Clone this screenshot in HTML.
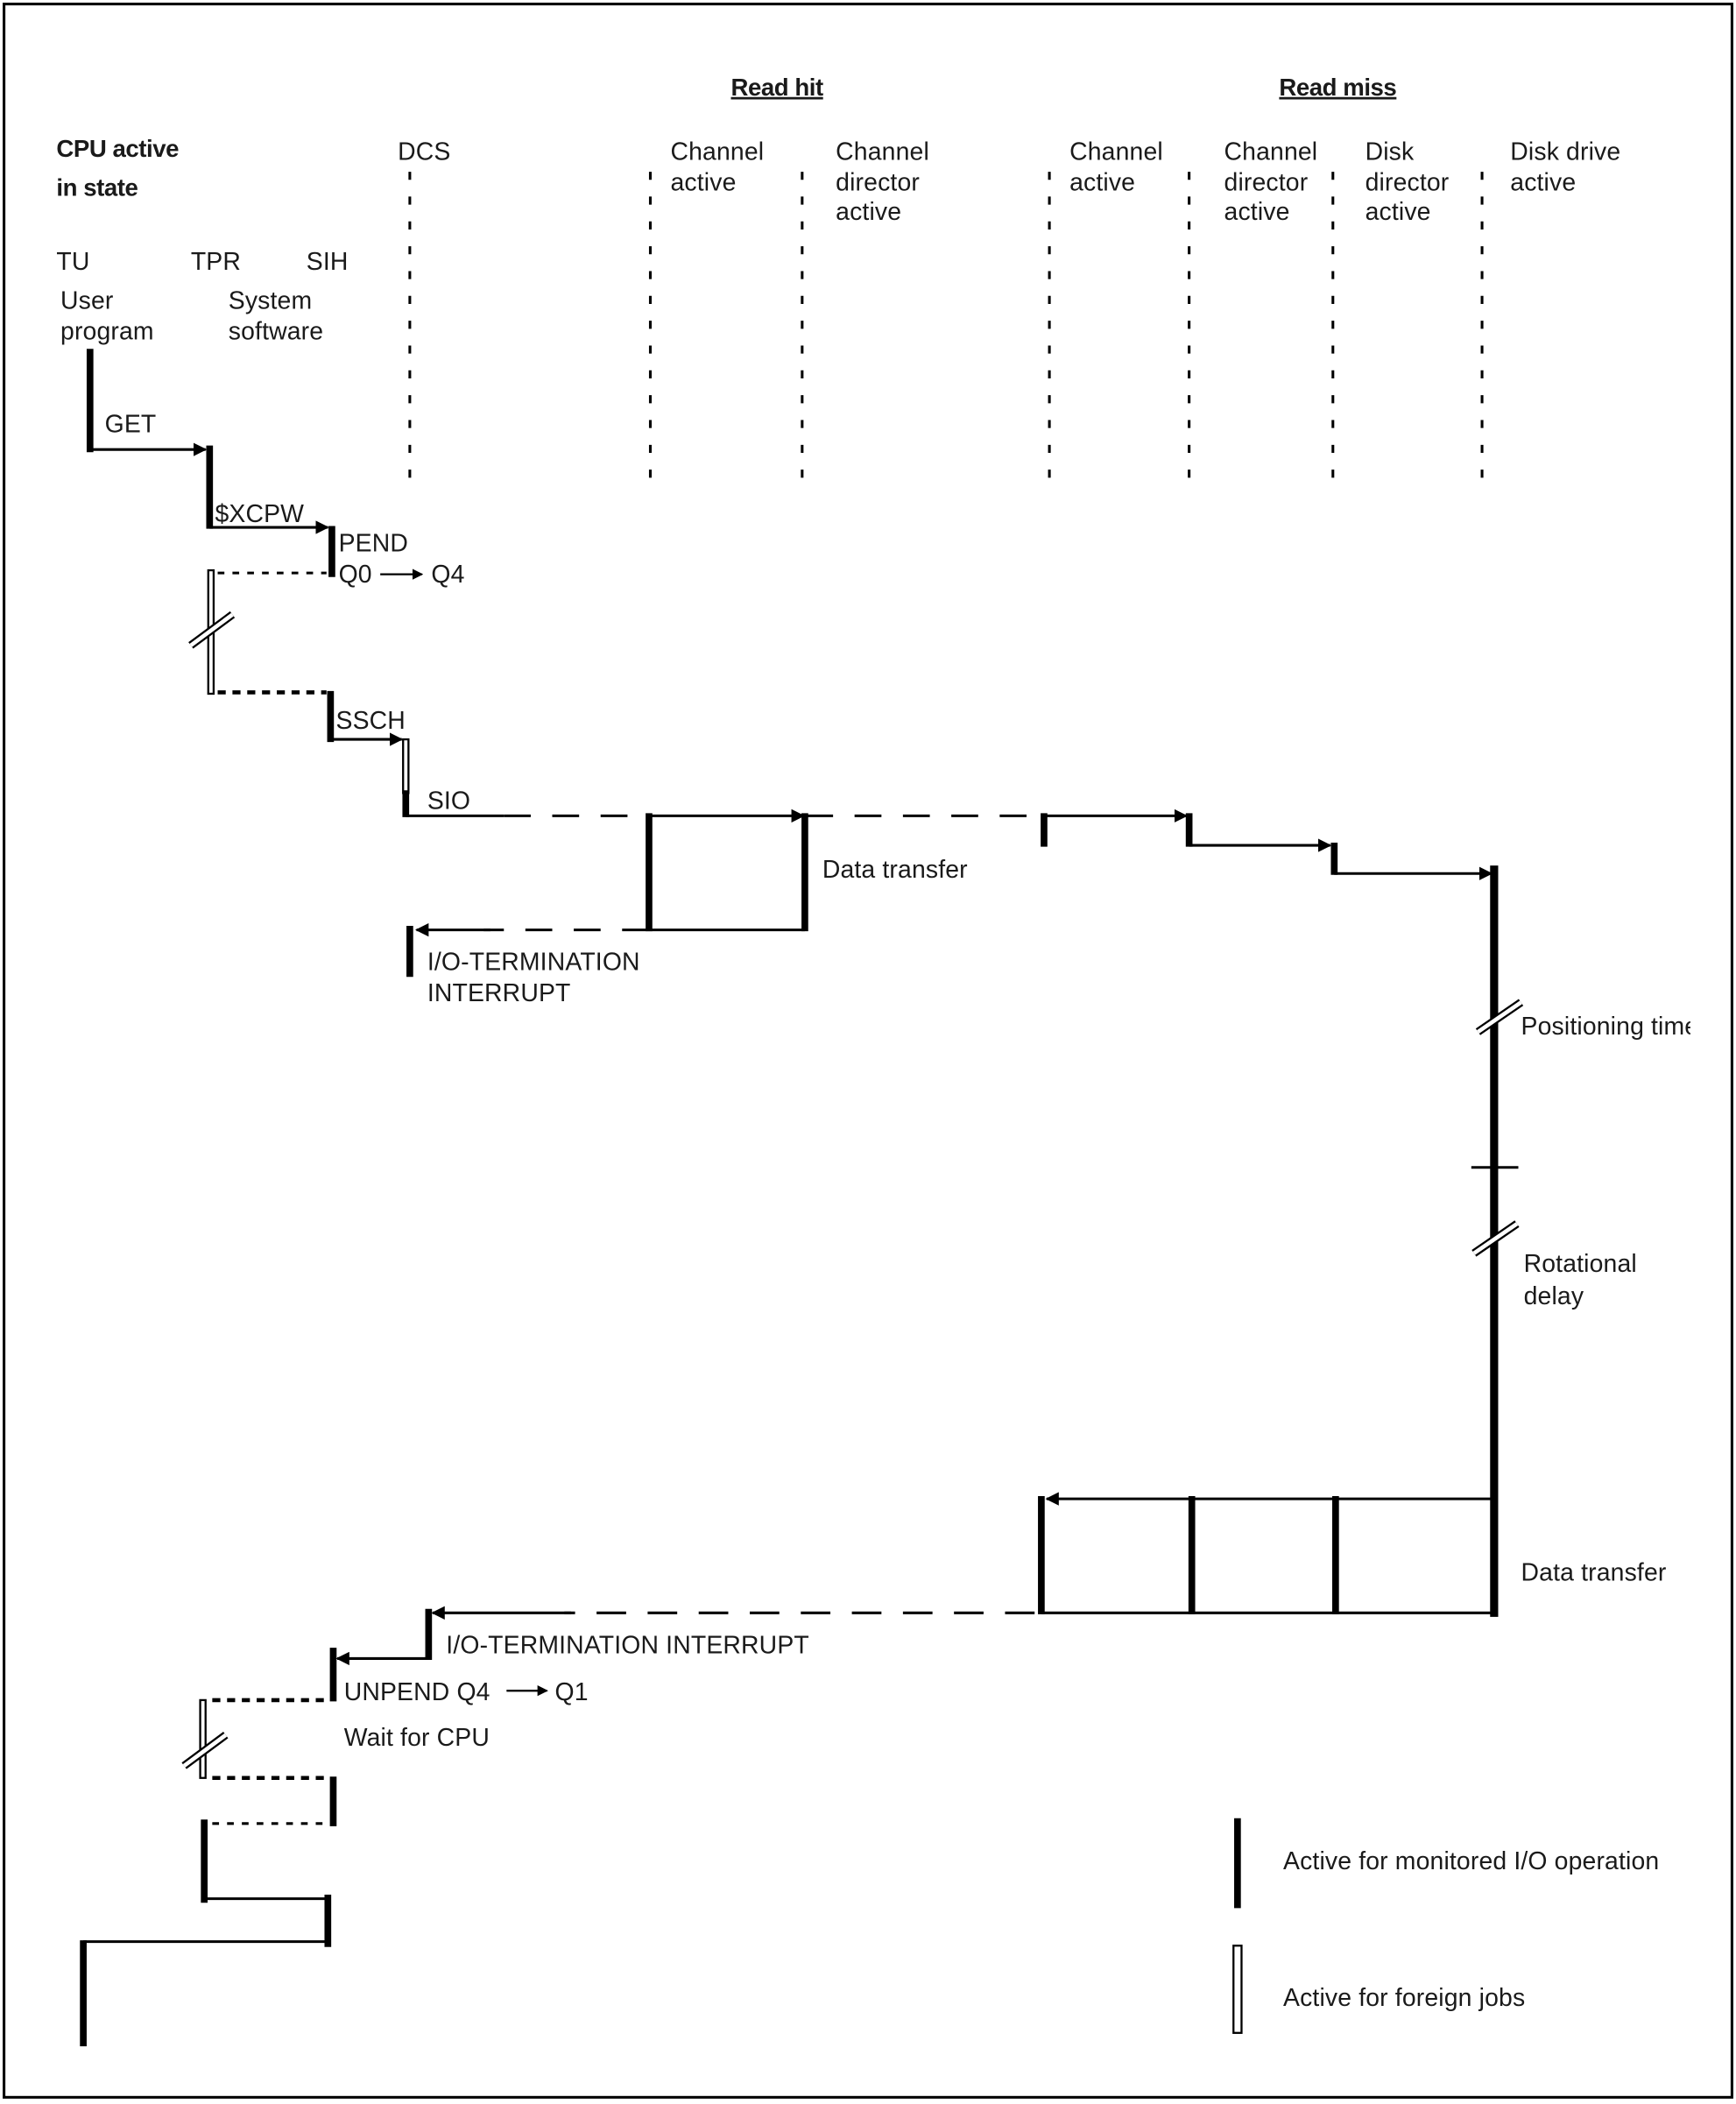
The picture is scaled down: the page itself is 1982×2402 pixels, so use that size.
<!DOCTYPE html>
<html><head><meta charset="utf-8">
<style>
html,body{margin:0;padding:0;background:#fff;}
svg{display:block;}
text{font-family:"Liberation Sans",Arial,sans-serif;font-size:18.5px;fill:#1a1a1a;letter-spacing:0.1px;}
.b{font-weight:bold;font-size:18px;letter-spacing:-0.3px;}
</style></head>
<body>
<svg width="1982" height="2402" viewBox="0 0 1292 1568" preserveAspectRatio="none" xmlns="http://www.w3.org/2000/svg">
<defs>
<marker id="ar" markerWidth="10" markerHeight="10" refX="9" refY="5" orient="auto" markerUnits="userSpaceOnUse">
<path d="M0,0 L10,5 L0,10 Z" fill="#000"/>
</marker>
<marker id="as" markerWidth="8" markerHeight="8" refX="7" refY="4" orient="auto" markerUnits="userSpaceOnUse">
<path d="M0,0 L8,4 L0,8 Z" fill="#000"/>
</marker>
</defs>
<rect x="3" y="3" width="1286" height="1560" fill="#fff" stroke="#000" stroke-width="2"/>

<!-- headers -->
<text class="b" x="544" y="71" text-decoration="underline">Read hit</text>
<text class="b" x="952" y="71" text-decoration="underline">Read miss</text>
<text class="b" x="42" y="117">CPU active</text>
<text class="b" x="42" y="146">in state</text>
<text x="296" y="119">DCS</text>
<text x="499" y="119">Channel</text><text x="499" y="142">active</text>
<text x="622" y="119">Channel</text><text x="622" y="142">director</text><text x="622" y="164">active</text>
<text x="796" y="119">Channel</text><text x="796" y="142">active</text>
<text x="911" y="119">Channel</text><text x="911" y="142">director</text><text x="911" y="164">active</text>
<text x="1016" y="119">Disk</text><text x="1016" y="142">director</text><text x="1016" y="164">active</text>
<text x="1124" y="119">Disk drive</text><text x="1124" y="142">active</text>
<text x="42" y="201">TU</text><text x="142" y="201">TPR</text><text x="228" y="201">SIH</text>
<text x="45" y="230">User</text><text x="45" y="253">program</text>
<text x="170" y="230">System</text><text x="170" y="253">software</text>

<!-- dashed verticals -->
<g stroke="#000" stroke-width="2" stroke-dasharray="6 12.5">
<line x1="305" y1="128" x2="305" y2="360"/>
<line x1="484" y1="128" x2="484" y2="360"/>
<line x1="597" y1="128" x2="597" y2="360"/>
<line x1="781" y1="128" x2="781" y2="360"/>
<line x1="885" y1="128" x2="885" y2="360"/>
<line x1="992" y1="128" x2="992" y2="360"/>
<line x1="1103" y1="128" x2="1103" y2="360"/>
</g>

<!-- CPU part -->
<g stroke="#000" fill="none">
<line x1="67" y1="260" x2="67" y2="337" stroke-width="5"/>
<line x1="67" y1="335" x2="153" y2="335" stroke-width="2" marker-end="url(#ar)"/>
<line x1="156" y1="332" x2="156" y2="394" stroke-width="5"/>
<line x1="156" y1="393" x2="244" y2="393" stroke-width="2" marker-end="url(#ar)"/>
<line x1="247" y1="392" x2="247" y2="430" stroke-width="5"/>
<line x1="283" y1="428" x2="314" y2="428" stroke-width="1.5" marker-end="url(#as)"/>
<line x1="162" y1="427" x2="243" y2="427" stroke-width="2" stroke-dasharray="5 6"/>
<rect x="155" y="425" width="4" height="92" stroke-width="1.5" fill="#fff"/>
<line x1="162" y1="516" x2="243" y2="516" stroke-width="3" stroke-dasharray="6 5"/>
<line x1="246" y1="515" x2="246" y2="553" stroke-width="5"/>
<line x1="246" y1="551" x2="299" y2="551" stroke-width="2" marker-end="url(#ar)"/>
<rect x="300" y="551" width="4" height="40" stroke-width="1.5" fill="#fff"/>
<line x1="302" y1="589" x2="302" y2="609" stroke-width="5"/>
<line x1="302" y1="608" x2="375" y2="608" stroke-width="2"/>
<line x1="375" y1="608" x2="483" y2="608" stroke-width="2" stroke-dasharray="20 16"/>
<line x1="483" y1="606" x2="483" y2="694" stroke-width="5"/>
<line x1="483" y1="608" x2="598" y2="608" stroke-width="2" marker-end="url(#ar)"/>
<line x1="599" y1="606" x2="599" y2="694" stroke-width="5"/>
<line x1="483" y1="693" x2="599" y2="693" stroke-width="2"/>
<line x1="600" y1="608" x2="775" y2="608" stroke-width="2" stroke-dasharray="20 16"/>
<line x1="483" y1="693" x2="360" y2="693" stroke-width="2" stroke-dasharray="20 16"/>
<line x1="365" y1="693" x2="310" y2="693" stroke-width="2" marker-end="url(#ar)"/>
<line x1="305" y1="690" x2="305" y2="728" stroke-width="5"/>

<!-- read miss -->
<line x1="777" y1="606" x2="777" y2="631" stroke-width="5"/>
<line x1="777" y1="608" x2="883" y2="608" stroke-width="2" marker-end="url(#ar)"/>
<line x1="885" y1="606" x2="885" y2="631" stroke-width="5"/>
<line x1="885" y1="630" x2="990" y2="630" stroke-width="2" marker-end="url(#ar)"/>
<line x1="993" y1="628" x2="993" y2="652" stroke-width="5"/>
<line x1="993" y1="651" x2="1110" y2="651" stroke-width="2" marker-end="url(#ar)"/>
<line x1="1112" y1="645" x2="1112" y2="1205" stroke-width="6"/>
<line x1="1095" y1="870" x2="1130" y2="870" stroke-width="2"/>
<line x1="1112" y1="1117" x2="779" y2="1117" stroke-width="2" marker-end="url(#ar)"/>
<line x1="775" y1="1115" x2="775" y2="1203" stroke-width="5"/>
<line x1="887" y1="1115" x2="887" y2="1203" stroke-width="5"/>
<line x1="994" y1="1115" x2="994" y2="1203" stroke-width="5"/>
<line x1="775" y1="1202" x2="1112" y2="1202" stroke-width="2"/>
<line x1="770" y1="1202" x2="420" y2="1202" stroke-width="2" stroke-dasharray="22 16"/>
<line x1="425" y1="1202" x2="322" y2="1202" stroke-width="2" marker-end="url(#ar)"/>
<line x1="319" y1="1199" x2="319" y2="1237" stroke-width="5"/>
<line x1="319" y1="1236" x2="251" y2="1236" stroke-width="2" marker-end="url(#ar)"/>
<line x1="248" y1="1228" x2="248" y2="1268" stroke-width="5"/>
<line x1="377" y1="1260" x2="407" y2="1260" stroke-width="1.5" marker-end="url(#as)"/>
<line x1="158" y1="1267" x2="243" y2="1267" stroke-width="3" stroke-dasharray="6 5"/>
<rect x="149" y="1267" width="4" height="58" stroke-width="1.5" fill="#fff"/>
<line x1="158" y1="1325" x2="243" y2="1325" stroke-width="3" stroke-dasharray="6 5"/>
<line x1="248" y1="1324" x2="248" y2="1361" stroke-width="5"/>
<line x1="158" y1="1359" x2="243" y2="1359" stroke-width="2" stroke-dasharray="5 6"/>
<line x1="152" y1="1356" x2="152" y2="1418" stroke-width="5"/>
<line x1="152" y1="1415" x2="244" y2="1415" stroke-width="2"/>
<line x1="244" y1="1412" x2="244" y2="1451" stroke-width="5"/>
<line x1="62" y1="1447" x2="244" y2="1447" stroke-width="2"/>
<line x1="62" y1="1446" x2="62" y2="1525" stroke-width="5"/>

<!-- legend -->
<line x1="921" y1="1355" x2="921" y2="1422" stroke-width="5"/>
<rect x="918" y="1450" width="6" height="65" stroke-width="1.5" fill="#fff"/>
</g>

<!-- break marks -->
<g>
<line x1="142" y1="481" x2="173" y2="458" stroke="#000" stroke-width="6"/>
<line x1="142" y1="481" x2="173" y2="458" stroke="#fff" stroke-width="3"/>
<line x1="137" y1="1316" x2="168" y2="1293" stroke="#000" stroke-width="6"/>
<line x1="137" y1="1316" x2="168" y2="1293" stroke="#fff" stroke-width="3"/>
<line x1="1100" y1="769" x2="1132" y2="747" stroke="#000" stroke-width="6"/>
<line x1="1100" y1="769" x2="1132" y2="747" stroke="#fff" stroke-width="3"/>
<line x1="1097" y1="934" x2="1129" y2="912" stroke="#000" stroke-width="6"/>
<line x1="1097" y1="934" x2="1129" y2="912" stroke="#fff" stroke-width="3"/>
</g>

<!-- labels -->
<text x="78" y="322">GET</text>
<text x="160" y="389">$XCPW</text>
<text x="252" y="411">PEND</text>
<text x="252" y="434">Q0</text>
<text x="321" y="434">Q4</text>
<text x="250" y="543">SSCH</text>
<text x="318" y="603">SIO</text>
<text x="612" y="654">Data transfer</text>
<text x="318" y="723">I/O-TERMINATION</text>
<text x="318" y="746">INTERRUPT</text>
<svg x="1130" y="745" width="128" height="40" overflow="hidden"><text x="2" y="26">Positioning time</text></svg>
<text x="1134" y="948">Rotational</text>
<text x="1134" y="972">delay</text>
<text x="1132" y="1178">Data transfer</text>
<text x="332" y="1232">I/O-TERMINATION INTERRUPT</text>
<text x="256" y="1267">UNPEND Q4</text>
<text x="413" y="1267">Q1</text>
<text x="256" y="1301">Wait for CPU</text>
<text x="955" y="1393">Active for monitored I/O operation</text>
<text x="955" y="1495">Active for foreign jobs</text>
</svg>
</body></html>
